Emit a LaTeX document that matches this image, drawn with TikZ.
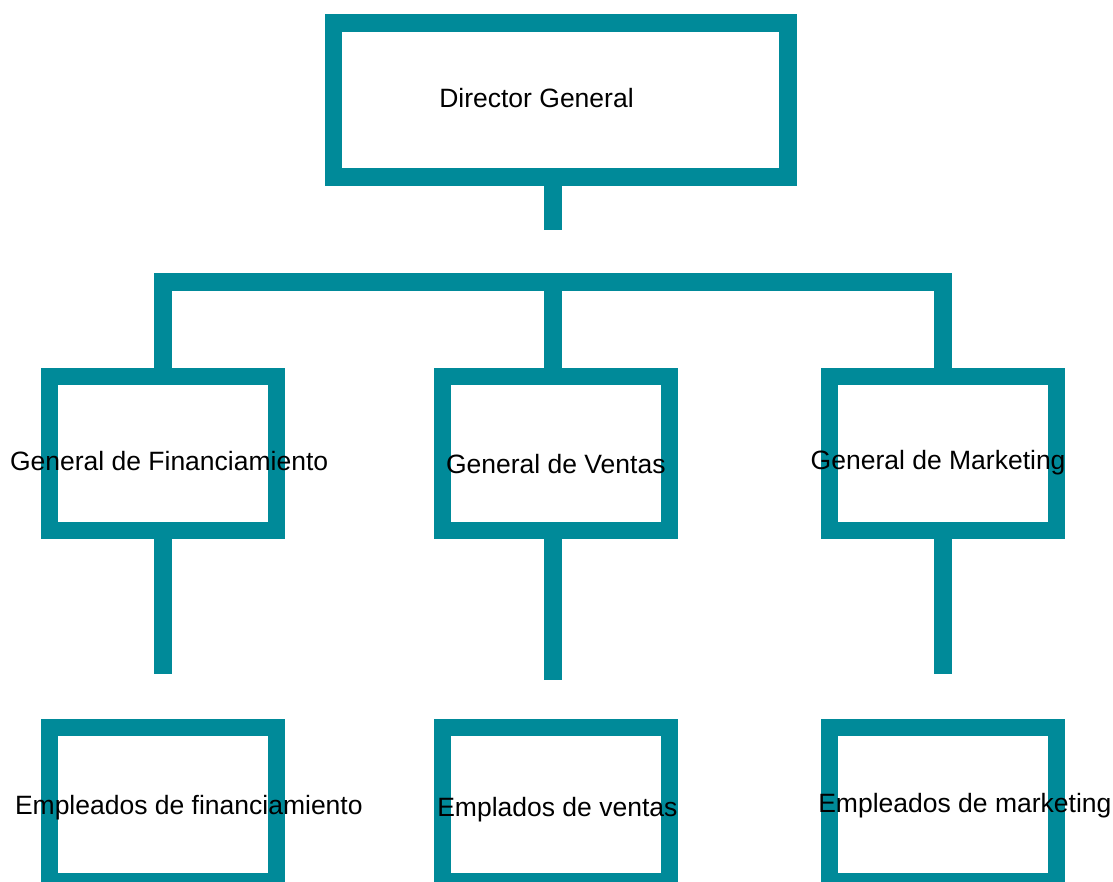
\documentclass[tikz,border=0pt]{standalone}
\usepackage{fontspec}
\setmainfont{Liberation Sans}
\definecolor{teal1}{HTML}{008A99}
\begin{document}
\begin{tikzpicture}[x=1pt,y=-1pt,
  box/.style={draw=teal1,line width=17.6pt,rectangle,outer sep=0pt,inner sep=0pt,minimum width=227pt,minimum height=154.3pt},
  topbox/.style={box,minimum width=454.4pt,minimum height=154.2pt},
  conn/.style={draw=teal1,line width=17.6pt,line cap=butt,line join=miter},
  lbl/.style={anchor=base west,inner sep=0pt,outer sep=0pt,font=\fontsize{26.5pt}{30pt}\selectfont,text=black}]
\useasboundingbox (0,0) rectangle (1113,882);
% boxes
\node[topbox] (dg) at (560.5,99.9) {};
\node[box] (gf) at (162.9,453.5) {};
\node[box] (gv) at (556,453.5) {};
\node[box] (gm) at (942.8,453.5) {};
\node[box] (ef) at (162.9,804.5) {};
\node[box] (ev) at (556,804.5) {};
\node[box] (em) at (942.8,804.5) {};
% free ends of connectors
\coordinate (dgend) at (553,230.3);
\coordinate (barl) at (163,282.2);
\coordinate (barm) at (553,282.2);
\coordinate (barr) at (943,282.2);
\coordinate (gfend) at (163,674.3);
\coordinate (gvend) at (553,680.3);
\coordinate (gmend) at (943,674.3);
% connectors
\draw[conn] (dgend |- dg.south) -- (dgend);
\draw[conn] (barl |- gf.north) -- (barl) -- (barr) -- (barr |- gm.north);
\draw[conn] (barm) -- (barm |- gv.north);
\draw[conn] (gfend |- gf.south) -- (gfend);
\draw[conn] (gvend |- gv.south) -- (gvend);
\draw[conn] (gmend |- gm.south) -- (gmend);
% labels
\node[lbl] (tdg) at (439.3,107.7) {Director General};
\node[lbl] (tgf) at (10,470.7) {General de Financiamiento};
\node[lbl] (tgv) at (446,473.3) {General de Ventas};
\node[lbl] (tgm) at (810.7,469) {General de Marketing};
\node[lbl] (tef) at (15,814) {Empleados de financiamiento};
\node[lbl] (tev) at (437.3,816.7) {Emplados de ventas};
\node[lbl] (tem) at (818.3,812.7) {Empleados de marketing};
\end{tikzpicture}
\end{document}
